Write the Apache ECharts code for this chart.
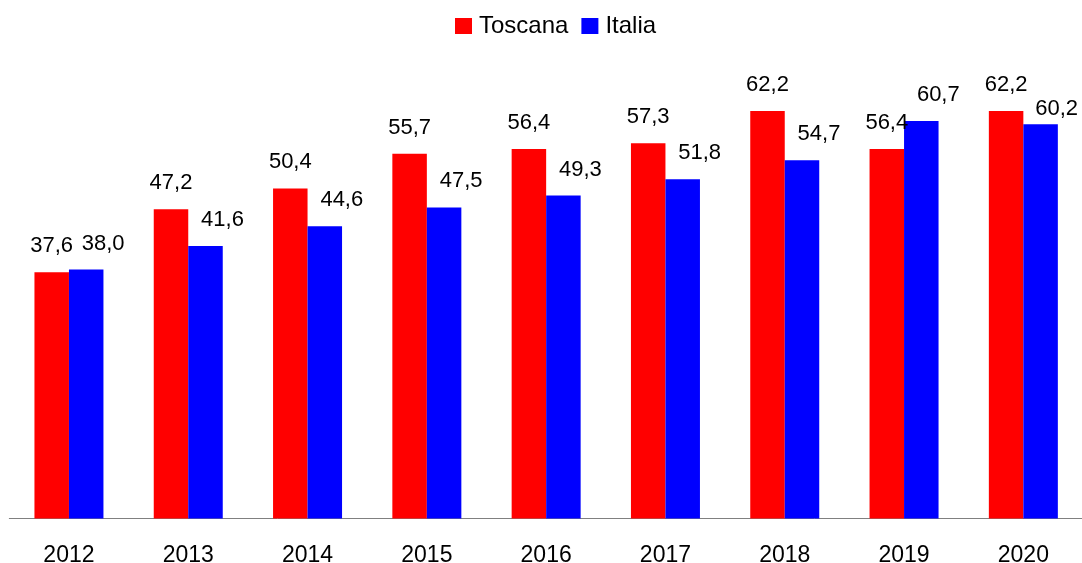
<!DOCTYPE html>
<html>
<head>
<meta charset="utf-8">
<script src="https://cdn.jsdelivr.net/npm/echarts@6/dist/echarts.min.js"></script>
<style>
html,body{margin:0;padding:0;background:#fff;}
#chart{width:1082px;height:563px;}
</style>
</head>
<body>
<div id="chart"></div>
<script>
var categories = ['2012','2013','2014','2015','2016','2017','2018','2019','2020'];
var toscana = [37.6, 47.2, 50.4, 55.7, 56.4, 57.3, 62.2, 56.4, 62.2];
var italia = [38.0, 41.6, 44.6, 47.5, 49.3, 51.8, 54.7, 60.7, 60.2];
var seriesNames = ['Toscana', 'Italia'];

var FONT = '"Liberation Sans", Arial, Helvetica, sans-serif';
function fmt(p){ return p.value.toFixed(1).replace('.', ','); }

var chart = echarts.init(document.getElementById('chart'), null, {renderer:'canvas'});
chart.setOption({
  animation: false,
  backgroundColor: '#ffffff',
  legend: {
    top: 9,
    left: 450,
    itemWidth: 17,
    itemHeight: 16,
    itemGap: 13,
    icon: 'rect',
    textStyle: {fontFamily: FONT, fontSize: 24, color: '#000', padding: [0,0,0,2]},
    data: seriesNames
  },
  grid: {left: 9.3, right: -1, top: 60, bottom: 44.5, containLabel: false, outerBoundsMode: 'none'},
  xAxis: {
    type: 'category',
    data: categories,
    axisLine: {show: true, lineStyle: {color: '#808080', width: 1}},
    axisTick: {show: false},
    axisLabel: {fontFamily: FONT, fontSize: 23, color: '#000', margin: 26}
  },
  yAxis: {
    type: 'value',
    min: 0,
    max: 70,
    show: false,
    splitLine: {show: false}
  },
  series: [
    {
      name: seriesNames[0],
      type: 'bar',
      barWidth: 34.5,
      barGap: '0%',
      itemStyle: {color: '#ff0000'},
      label: {show: true, position: 'top', distance: 15, fontFamily: FONT, fontSize: 22, color: '#000', formatter: fmt},
      data: toscana
    },
    {
      name: seriesNames[1],
      type: 'bar',
      barWidth: 34.5,
      barGap: '0%',
      itemStyle: {color: '#0000ff'},
      label: {show: true, position: 'top', distance: 15, offset: [17, 0], fontFamily: FONT, fontSize: 22, color: '#000', formatter: fmt},
      data: italia.map(function(v, i){
        return i === italia.length - 1 ? {value: v, label: {offset: [16, 11]}} : v;
      })
    }
  ]
});
</script>
</body>
</html>
